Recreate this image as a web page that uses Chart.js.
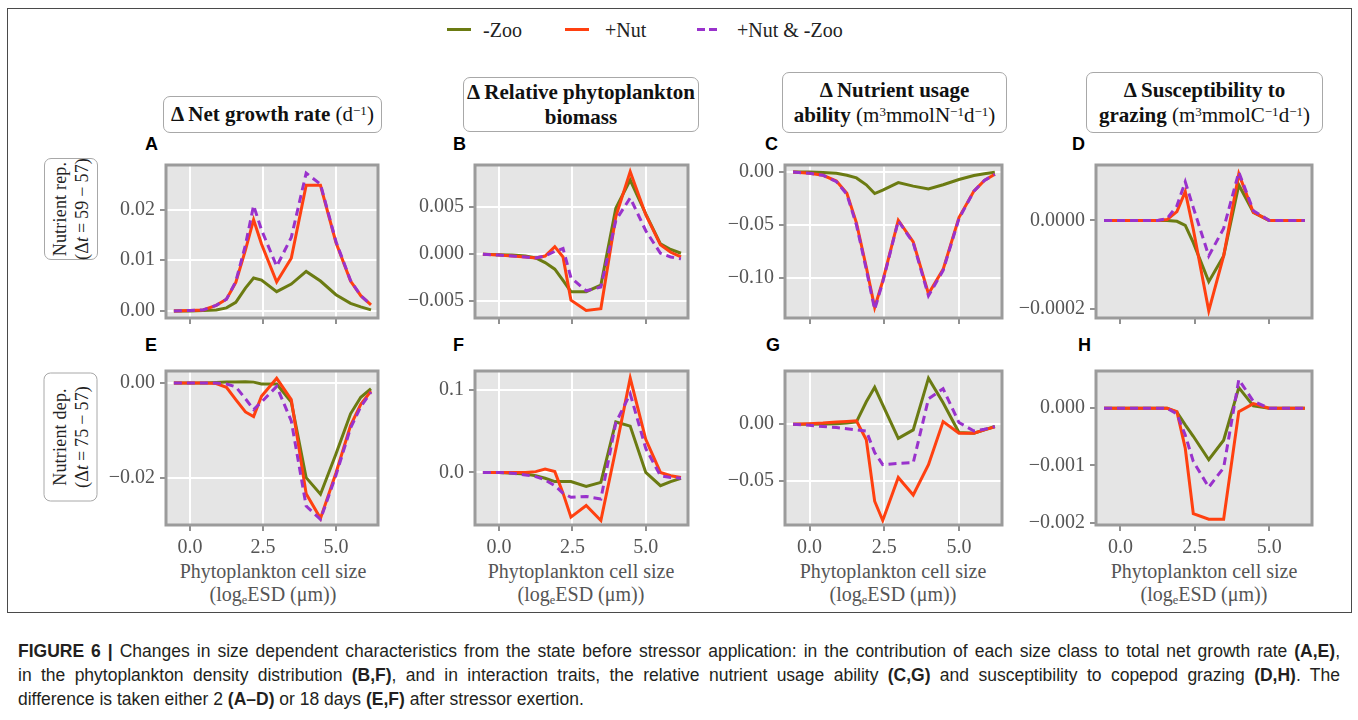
<!DOCTYPE html>
<html>
<head>
<meta charset="utf-8">
<script src="https://cdn.jsdelivr.net/npm/chart.js@4.4.1/dist/chart.umd.min.js"></script>
<style>
  body { margin: 0; width: 1358px; height: 720px; background: #fff; position: relative; overflow: hidden; font-family: 'Liberation Serif', 'DejaVu Serif', serif; }
  canvas { position: absolute; }
  #figFrame { position: absolute; left: 7px; top: 8px; width: 1345px; height: 605px; border: 1.5px solid #4a4a4a; box-sizing: border-box; }
  .legendItem { position: absolute; top: 18px; height: 24px; line-height: 24px; font-size: 20px; color: #222; white-space: nowrap; }
  .swatch { position: absolute; top: 10px; width: 24px; height: 3px; }
  .titleBox { position: absolute; border: 1.5px solid #a8a8a8; border-radius: 7px; box-sizing: border-box; background: #fff;
              display: flex; flex-direction: column; justify-content: center; align-items: center;
              font-size: 21px; line-height: 25px; color: #111; white-space: nowrap; }
  sup { font-size: 0.62em; vertical-align: 0.5em; line-height: 0; }
  sub { font-size: 0.62em; vertical-align: -0.25em; line-height: 0; }
  .letter { position: absolute; font-family: 'Liberation Sans', Arial, sans-serif; font-weight: bold; font-size: 18px; line-height: 18px; color: #000; }
  .rowLabel { position: absolute; height: 54px; border: 1.5px solid #a8a8a8; border-radius: 7px; box-sizing: border-box; background: #fff;
              display: flex; flex-direction: column; justify-content: center; align-items: center;
              font-size: 18px; line-height: 22px; letter-spacing: 0.2px; color: #222; transform: rotate(-90deg); white-space: nowrap; }
  .xTitle { position: absolute; top: 560px; width: 280px; text-align: center; font-size: 20px; line-height: 23px; color: #555; }
  .capLine { position: absolute; left: 18px; width: 1322px; height: 24px; line-height: 24px; font-family: 'Liberation Sans', Arial, sans-serif;
             font-size: 17.5px; color: #231f20; white-space: nowrap; }
  .justify { text-align: justify; text-align-last: justify; white-space: normal; }
</style>
</head>
<body>
<div id="figFrame"></div>

<div class="legendItem" style="left:447px;"><span class="swatch" style="left:0;background:#6b7b12;"></span><span style="margin-left:36px;">-Zoo</span></div>
<div class="legendItem" style="left:565px;"><span class="swatch" style="left:0;background:#ff4010;"></span><span style="margin-left:40px;">+Nut</span></div>
<div class="legendItem" style="left:697px;"><span class="swatch" style="left:0;background:repeating-linear-gradient(90deg,#9932cc 0 8px,transparent 8px 12px);"></span><span style="margin-left:40px;">+Nut &amp; -Zoo</span></div>

<div class="titleBox" style="left:163px;top:96px;width:219px;height:37px;"><div><b>Δ Net growth rate</b> (d<sup>−1</sup>)</div></div>
<div class="titleBox" style="left:463px;top:77px;width:236px;height:55px;"><div><b>Δ Relative phytoplankton</b></div><div><b>biomass</b></div></div>
<div class="titleBox" style="left:782px;top:72px;width:225px;height:61px;"><div><b>Δ Nutrient usage</b></div><div><b>ability</b> (m<sup>3</sup>mmolN<sup>−1</sup>d<sup>−1</sup>)</div></div>
<div class="titleBox" style="left:1086px;top:72px;width:237px;height:61px;"><div><b>Δ Susceptibility to</b></div><div><b>grazing</b> (m<sup>3</sup>mmolC<sup>−1</sup>d<sup>−1</sup>)</div></div>

<div class="letter" style="left:145px;top:135px;">A</div>
<div class="letter" style="left:453px;top:135px;">B</div>
<div class="letter" style="left:765px;top:135px;">C</div>
<div class="letter" style="left:1072px;top:135px;">D</div>
<div class="letter" style="left:145px;top:336px;">E</div>
<div class="letter" style="left:453px;top:336px;">F</div>
<div class="letter" style="left:766px;top:336px;">G</div>
<div class="letter" style="left:1078px;top:336px;">H</div>

<div class="rowLabel" style="left:20px;top:182px;width:102px;"><div>Nutrient rep.</div><div>(Δ<i>t</i>&#8201;=&#8201;59&#8201;−&#8201;57)</div></div>
<div class="rowLabel" style="left:6px;top:410px;width:129px;"><div>Nutrient dep.</div><div>(Δ<i>t</i>&#8201;=&#8201;75&#8201;−&#8201;57)</div></div>

<div class="xTitle" style="left:133px;">Phytoplankton cell size<br>(log<sub>e</sub>ESD (μm))</div>
<div class="xTitle" style="left:441px;">Phytoplankton cell size<br>(log<sub>e</sub>ESD (μm))</div>
<div class="xTitle" style="left:753px;">Phytoplankton cell size<br>(log<sub>e</sub>ESD (μm))</div>
<div class="xTitle" style="left:1064px;">Phytoplankton cell size<br>(log<sub>e</sub>ESD (μm))</div>

<div class="capLine justify" style="top:639px;"><b>FIGURE 6 |</b> Changes in size dependent characteristics from the state before stressor application: in the contribution of each size class to total net growth rate <b>(A,E)</b>,</div>
<div class="capLine justify" style="top:663px;">in the phytoplankton density distribution <b>(B,F)</b>, and in interaction traits, the relative nutrient usage ability <b>(C,G)</b> and susceptibility to copepod grazing <b>(D,H)</b>. The</div>
<div class="capLine" style="top:687px;">difference is taken either 2 <b>(A–D)</b> or 18 days <b>(E,F)</b> after stressor exertion.</div>

<script>
// size classes (log_e ESD)
const sizeClasses = [-0.55, 0.0, 0.45, 0.9, 1.25, 1.57, 1.9, 2.18, 2.45, 2.97, 3.47, 3.98, 4.47, 5.0, 5.5, 5.85, 6.2];
const xTicks = [0, 2.5, 5];

// A - net growth rate, nutrient replete
const growthZoo  = [0, 0, 0.0001, 0.0002, 0.0006, 0.0017, 0.0045, 0.0065, 0.0061, 0.0038, 0.0053, 0.0078, 0.0059, 0.0032, 0.0015, 0.0008, 0.0002];
const growthNut  = [0, 0.0001, 0.0002, 0.0011, 0.0023, 0.0056, 0.012, 0.018, 0.0132, 0.0057, 0.0104, 0.0248, 0.0248, 0.0135, 0.0059, 0.003, 0.0012];
const growthBoth = [0, 0.0001, 0.0002, 0.0011, 0.0023, 0.0058, 0.013, 0.0208, 0.016, 0.0088, 0.0145, 0.0272, 0.025, 0.0137, 0.006, 0.003, 0.0012];
const growthTicks = [0, 0.01, 0.02];

// B - relative biomass
const biomassZoo  = [0, -0.00005, -0.0001, -0.0002, -0.0004, -0.0009, -0.0016, -0.0028, -0.004, -0.004, -0.0033, 0.0049, 0.0079, 0.0043, 0.0011, 0.0005, 0.0001];
const biomassNut  = [0, -0.0001, -0.0002, -0.0003, -0.0004, -0.0002, 0.0008, -0.0003, -0.0049, -0.006, -0.0058, 0.004, 0.0088, 0.0042, 0.001, 0.0002, -0.0003];
const biomassBoth = [0, -0.0001, -0.0002, -0.0003, -0.0004, -0.0002, 0.0003, 0.0006, -0.0025, -0.0039, -0.0035, 0.0036, 0.006, 0.0025, 0.0001, -0.0003, -0.0005];
const biomassTicks = [-0.005, 0, 0.005];

// C - nutrient usage ability
const nutrientZoo  = [0, 0, -0.0003, -0.0012, -0.003, -0.0055, -0.012, -0.0203, -0.017, -0.010, -0.0133, -0.016, -0.012, -0.007, -0.0033, -0.0015, -0.0002];
const nutrientNut  = [0, -0.0012, -0.003, -0.0085, -0.02, -0.048, -0.09, -0.128, -0.103, -0.0455, -0.066, -0.115, -0.092, -0.043, -0.018, -0.008, -0.002];
const nutrientBoth = [0, -0.0012, -0.003, -0.009, -0.021, -0.05, -0.092, -0.13, -0.104, -0.046, -0.067, -0.117, -0.093, -0.044, -0.018, -0.008, -0.002];
const nutrientTicks = [-0.1, -0.05, 0];

// D - susceptibility to grazing
const grazingZoo  = [0, 0, 0, 0, 0, 0, -0.000002, -0.000011, -0.00005, -0.000138, -0.00008, 0.00008, 0.000018, 0, 0, 0, 0];
const grazingNut  = [0, 0, 0, 0, 0, 0.000002, 0.00002, 0.000065, -0.00002, -0.000204, -0.00008, 0.000105, 0.000018, 0, 0, 0, 0];
const grazingBoth = [0, 0, 0, 0, 0, 0.000004, 0.000033, 0.000087, 0.000029, -0.00008, -0.000018, 0.000109, 0.000022, 0, 0, 0, 0];
const grazingTicks = [-0.0002, 0];

// E - net growth rate, nutrient deplete
const growthZooDep  = [0, 0, 0, 0.0001, 0.0002, 0.0002, 0.0003, 0.0002, -0.0002, -0.0002, -0.004, -0.02, -0.0235, -0.015, -0.0065, -0.003, -0.0012];
const growthNutDep  = [0, 0, 0, -0.0001, -0.0009, -0.0035, -0.0061, -0.0071, -0.0028, 0.001, -0.0035, -0.0234, -0.0286, -0.019, -0.009, -0.0045, -0.0017];
const growthBothDep = [0, 0, 0, 0, -0.0002, -0.0008, -0.0033, -0.0056, -0.004, -0.0007, -0.008, -0.026, -0.0288, -0.0195, -0.0095, -0.005, -0.0019];
const growthDepTicks = [-0.02, 0];

// F
const biomassZooDep  = [0, 0, -0.001, -0.002, -0.004, -0.007, -0.011, -0.011, -0.011, -0.017, -0.012, 0.061, 0.056, 0, -0.016, -0.011, -0.007];
const biomassNutDep  = [0, 0, 0, 0, 0.001, 0.004, 0.001, -0.025, -0.054, -0.04, -0.058, 0.028, 0.114, 0.04, 0, -0.004, -0.006];
const biomassBothDep = [0, 0, -0.001, -0.003, -0.005, -0.009, -0.016, -0.025, -0.03, -0.029, -0.032, 0.06, 0.095, 0.029, -0.004, -0.006, -0.007];
const biomassDepTicks = [0, 0.1];

// G
const nutrientZooDep  = [0, 0, 0.0002, 0.0005, 0.001, 0.002, 0.0198, 0.0326, 0.017, -0.0125, -0.005, 0.0407, 0.019, -0.0073, -0.008, -0.005, -0.002];
const nutrientNutDep  = [0, 0.0005, 0.001, 0.002, 0.0025, 0.003, -0.0137, -0.068, -0.085, -0.047, -0.0625, -0.0358, 0.0023, -0.008, -0.008, -0.005, -0.0023];
const nutrientBothDep = [0, -0.001, -0.002, -0.003, -0.004, -0.005, -0.006, -0.025, -0.0357, -0.0345, -0.034, 0.0224, 0.0314, 0.0015, -0.006, -0.0045, -0.002];
const nutrientDepTicks = [-0.05, 0];

// H
const grazingZooDep  = [0, 0, 0, 0, 0, 0, -0.00007, -0.00029, -0.00049, -0.0009, -0.00056, 0.00036, 0.00004, 0, 0, 0, 0];
const grazingNutDep  = [0, 0, 0, 0, 0, 0, -0.00006, -0.0007, -0.00184, -0.00194, -0.00194, -0.00006, 0.00008, 0, 0, 0, 0];
const grazingBothDep = [0, 0, 0, 0, 0, 0, -0.0001, -0.00047, -0.00093, -0.00138, -0.00104, 0.0005, 0.00012, 0, 0, 0, 0];
const grazingDepTicks = [-0.002, -0.001, 0];

const zooColor = '#6b7b12';
const nutColor = '#ff4010';
const bothColor = '#9932cc';

// plot frames on the page
const colLeft = [166, 475, 785, 1096];
const colWidth = [212, 213, 217, 216];
const rowTop = [162, 368];
const rowHeight = [159, 157];

const framePlugin = {
    id: 'frame',
    beforeDraw(chart) {
        const a = chart.chartArea, ctx = chart.ctx;
        ctx.save();
        ctx.fillStyle = '#e5e5e5';
        ctx.fillRect(a.left, a.top, a.right - a.left, a.bottom - a.top);
        ctx.restore();
    },
    afterDraw(chart) {
        const a = chart.chartArea, ctx = chart.ctx;
        ctx.save();
        ctx.strokeStyle = '#9b9b9b';
        ctx.lineWidth = 3;
        ctx.strokeRect(a.left, a.top, a.right - a.left, a.bottom - a.top);
        ctx.restore();
    }
};

function tickText(v, decimals) {
    const s = Math.abs(v) < 1e-12 ? (0).toFixed(decimals) : v.toFixed(decimals);
    return s.replace('-', '\u2212');
}

function renderPanel(p) {
    const axisW = 120, padTop = 14, padRight = 10;
    const axisH = p.row === 1 ? 44 : 14;
    const w = colWidth[p.col], h = rowHeight[p.row];

    const canvas = document.createElement('canvas');
    canvas.width = w + axisW + padRight;
    canvas.height = h + padTop + axisH;
    canvas.style.left = (colLeft[p.col] - axisW) + 'px';
    canvas.style.top = (rowTop[p.row] - padTop) + 'px';
    canvas.style.width = canvas.width + 'px';
    canvas.style.height = canvas.height + 'px';
    document.body.appendChild(canvas);

    const line = (label, values, color, dash, order) => ({
        label,
        data: sizeClasses.map((x, i) => ({ x, y: values[i] })),
        borderColor: color,
        borderWidth: 3,
        borderDash: dash,
        pointRadius: 0,
        fill: false,
        tension: 0,
        order
    });

    new Chart(canvas, {
        type: 'line',
        data: {
            datasets: [
                line('-Zoo', p.series[0], zooColor, [], 2),
                line('+Nut', p.series[1], nutColor, [], 1),
                line('+Nut & -Zoo', p.series[2], bothColor, [8, 5], 0)
            ]
        },
        options: {
            responsive: false,
            animation: false,
            devicePixelRatio: 1,
            layout: { padding: { top: padTop, right: padRight, left: 0, bottom: 0 } },
            plugins: { legend: { display: false }, tooltip: { enabled: false } },
            scales: {
                x: {
                    type: 'linear',
                    min: -0.82,
                    max: 6.44,
                    afterBuildTicks: s => { s.ticks = xTicks.map(v => ({ value: v })); },
                    afterFit: s => { s.height = axisH; },
                    border: { display: false },
                    grid: { color: '#ffffff', lineWidth: 2, drawOnChartArea: p.grid, tickColor: '#555555', tickLength: 6, tickWidth: 1.3 },
                    ticks: {
                        display: p.row === 1,
                        color: '#555555',
                        font: { family: 'Liberation Serif', size: 20 },
                        padding: 5,
                        maxRotation: 0,
                        callback: v => v.toFixed(1)
                    }
                },
                y: {
                    min: p.yMin,
                    max: p.yMax,
                    afterBuildTicks: s => { s.ticks = p.yTicks.map(v => ({ value: v })); },
                    afterFit: s => { s.width = axisW; },
                    border: { display: false },
                    grid: { color: '#ffffff', lineWidth: 2, drawOnChartArea: p.grid, tickColor: '#555555', tickLength: 6, tickWidth: 1.3 },
                    ticks: {
                        color: '#555555',
                        font: { family: 'Liberation Serif', size: 20 },
                        padding: 5,
                        callback: v => tickText(v, p.decimals)
                    }
                }
            }
        },
        plugins: [framePlugin]
    });
}

const panels = [
    { col: 0, row: 0, series: [growthZoo, growthNut, growthBoth], yMin: -0.0014, yMax: 0.0288, yTicks: growthTicks, decimals: 2, grid: true },
    { col: 1, row: 0, series: [biomassZoo, biomassNut, biomassBoth], yMin: -0.0068, yMax: 0.0095, yTicks: biomassTicks, decimals: 3, grid: true },
    { col: 2, row: 0, series: [nutrientZoo, nutrientNut, nutrientBoth], yMin: -0.138, yMax: 0.0067, yTicks: nutrientTicks, decimals: 2, grid: true },
    { col: 3, row: 0, series: [grazingZoo, grazingNut, grazingBoth], yMin: -0.00022, yMax: 0.000125, yTicks: grazingTicks, decimals: 4, grid: false },
    { col: 0, row: 1, series: [growthZooDep, growthNutDep, growthBothDep], yMin: -0.030, yMax: 0.00255, yTicks: growthDepTicks, decimals: 2, grid: true },
    { col: 1, row: 1, series: [biomassZooDep, biomassNutDep, biomassBothDep], yMin: -0.0635, yMax: 0.1226, yTicks: biomassDepTicks, decimals: 1, grid: true },
    { col: 2, row: 1, series: [nutrientZooDep, nutrientNutDep, nutrientBothDep], yMin: -0.089, yMax: 0.047, yTicks: nutrientDepTicks, decimals: 2, grid: true },
    { col: 3, row: 1, series: [grazingZooDep, grazingNutDep, grazingBothDep], yMin: -0.00204, yMax: 0.00065, yTicks: grazingDepTicks, decimals: 3, grid: false }
];

panels.forEach(renderPanel);
</script>
</body>
</html>
